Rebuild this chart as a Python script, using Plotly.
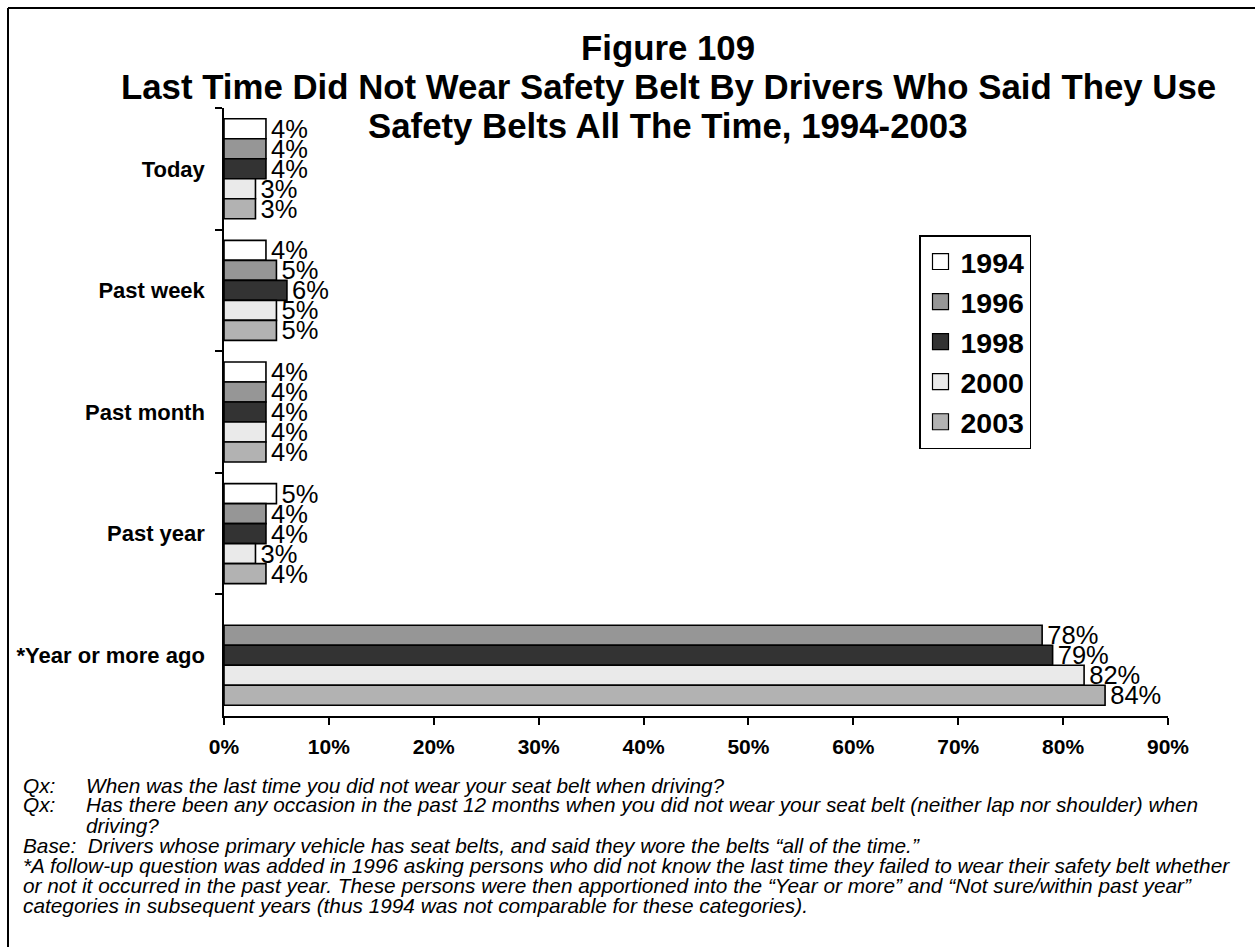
import plotly.graph_objects as go

# Survey responses: last time a self-reported full-time belt user went unbelted
categories = ["Today", "Past week", "Past month", "Past year", "*Year or more ago"]
years = ["1994", "1996", "1998", "2000", "2003"]
pct_1994 = [4, 4, 4, 5, None]
pct_1996 = [4, 5, 4, 4, 78]
pct_1998 = [4, 6, 4, 4, 79]
pct_2000 = [3, 5, 4, 3, 82]
pct_2003 = [3, 5, 4, 4, 84]
series = [pct_1994, pct_1996, pct_1998, pct_2000, pct_2003]
fills = ["#ffffff", "#969696", "#333333", "#eaeaea", "#b2b2b2"]

title_lines = [
    "Figure 109",
    "Last Time Did Not Wear Safety Belt By Drivers Who Said They Use",
    "Safety Belts All The Time, 1994-2003",
]

FONT = "Liberation Sans, Arial, sans-serif"
W, H = 1255, 947
# plot area in pixels
L, R, T, B = 224, 1168, 108, 716


def px_x(p):
    return (p - L) / (R - L)


def px_y(p):
    return (B - p) / (B - T)


fig = go.Figure()
for name, vals, col in zip(years, series, fills):
    fig.add_trace(go.Bar(
        y=categories,
        x=vals,
        name=name,
        orientation="h",
        marker=dict(color=col, line=dict(color="#000000", width=1.6)),
        text=["" if v is None else f"\u200a{v}%" for v in vals],
        textposition="outside",
        constraintext="none",
        cliponaxis=False,
        textfont=dict(family=FONT, size=25.5, color="#000000"),
        showlegend=False,
        hoverinfo="skip",
    ))
    # legend swatch entry
    fig.add_trace(go.Scatter(
        x=[None], y=[None], mode="markers", name=name,
        legendgroup=name,
        marker=dict(symbol="square", size=16, color=col,
                    line=dict(color="#000000", width=1.2)),
        hoverinfo="skip",
    ))

annotations = []
for line, yy in zip(title_lines, [47, 86, 125]):
    annotations.append(dict(
        text=f"<b>{line}</b>", x=px_x(668), y=px_y(yy), xref="paper", yref="paper",
        xanchor="center", yanchor="middle", showarrow=False,
        font=dict(family=FONT, size=34.8, color="#000000"),
    ))

notes = [
    ("Qx:", "When was the last time you did not wear your seat belt when driving?", 785),
    ("Qx:", "Has there been any occasion in the past 12 months when you did not wear your seat belt (neither lap nor shoulder) when", 804),
    ("", "driving?", 825),
    ("Base:\u00a0 Drivers whose primary vehicle has seat belts, and said they wore the belts “all of the time.”", "", 845),
    ("*A follow-up question was added in 1996 asking persons who did not know the last time they failed to wear their safety belt whether", "", 865),
    ("or not it occurred in the past year. These persons were then apportioned into the “Year or more” and “Not sure/within past year”", "", 885),
    ("categories in subsequent years (thus 1994 was not comparable for these categories).", "", 905),
]
note_font = dict(family=FONT, size=20.8, color="#000000", style="italic")
for left, right, yy in notes:
    if left:
        annotations.append(dict(
            text=left, x=px_x(21), y=px_y(yy), xref="paper", yref="paper",
            xanchor="left", yanchor="middle", showarrow=False, font=note_font,
        ))
    if right:
        annotations.append(dict(
            text=right, x=px_x(84), y=px_y(yy), xref="paper", yref="paper",
            xanchor="left", yanchor="middle", showarrow=False, font=note_font,
        ))

# frame lines along the top and left edges
shapes = [
    dict(type="line", xref="paper", yref="paper", x0=px_x(8), x1=px_x(W + 5),
         y0=px_y(8), y1=px_y(8), line=dict(color="#000000", width=2)),
    dict(type="line", xref="paper", yref="paper", x0=px_x(8), x1=px_x(8),
         y0=px_y(8), y1=px_y(H + 5), line=dict(color="#000000", width=2)),
]

fig.update_layout(
    width=W, height=H,
    margin=dict(l=L, r=W - R, t=T, b=H - B, pad=0),
    paper_bgcolor="#ffffff", plot_bgcolor="#ffffff",
    barmode="group", bargap=0.178, bargroupgap=0,
    font=dict(family=FONT, color="#000000"),
    annotations=annotations,
    shapes=shapes,
    legend=dict(
        x=px_x(919), y=px_y(235), xanchor="left", yanchor="top",
        bgcolor="#ffffff", bordercolor="#000000", borderwidth=1.5,
        font=dict(family=FONT, size=28.5, color="#000000", weight="bold"),
        traceorder="grouped", tracegroupgap=0,
    ),
    xaxis=dict(
        range=[0, 90], dtick=10, tick0=0, ticksuffix="%",
        showgrid=False, zeroline=False,
        showline=True, linecolor="#000000", linewidth=1.5,
        ticks="outside", ticklen=7, tickwidth=1.5, tickcolor="#000000",
        tickfont=dict(family=FONT, size=21, color="#000000", weight="bold"),
        ticklabelstandoff=4,
        fixedrange=True,
    ),
    yaxis=dict(
        type="category", categoryorder="array", categoryarray=categories,
        autorange="reversed",
        showgrid=False, zeroline=False,
        showline=True, linecolor="#000000", linewidth=1.5,
        ticks="outside", ticklen=7, tickwidth=1.5, tickcolor="#000000",
        tickson="boundaries",
        tickfont=dict(family=FONT, size=22, color="#000000", weight="bold"),
        ticklabelstandoff=13,
        fixedrange=True,
    ),
)

fig.write_html("out.html")
